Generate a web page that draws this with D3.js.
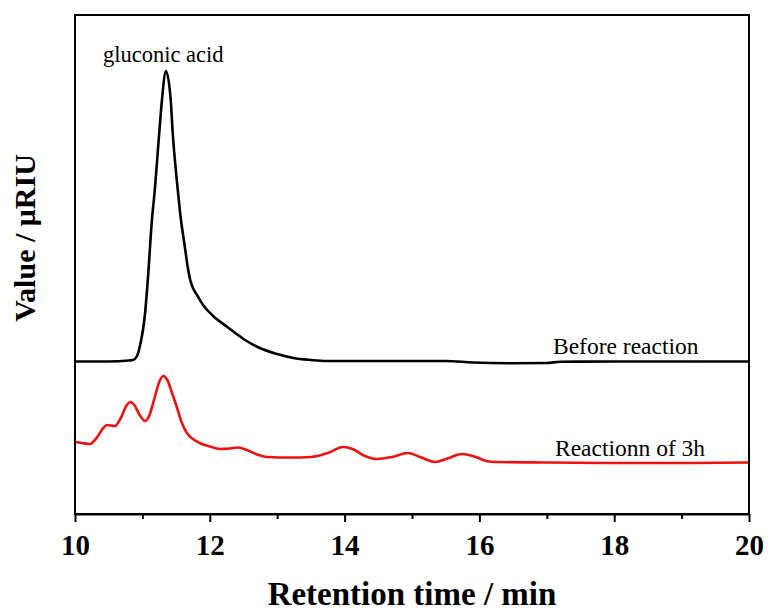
<!DOCTYPE html>
<html>
<head>
<meta charset="utf-8">
<script src="https://cdn.jsdelivr.net/npm/d3@7"></script>
<style>
  html, body { margin: 0; padding: 0; background: #fff; }
  svg { display: block; }
  text { font-family: "Liberation Serif", "Times New Roman", serif; }
</style>
</head>
<body>
<svg id="chart" width="768" height="614"></svg>
<script>
// ---- data (retention time in min, signal in arbitrary μRIU units, offset traces) ----
const beforeTime = [10.0, 10.5, 10.8, 10.86, 10.92, 10.96, 11.04, 11.08, 11.15, 11.17, 11.25, 11.29, 11.35,
  11.42, 11.45, 11.51, 11.54, 11.56, 11.63, 11.67, 11.71, 11.75, 11.81, 11.90, 12.05, 12.26, 12.5, 12.74, 13.0, 13.24,
  13.5, 13.73, 14.5, 15.5, 15.9, 16.5, 17.0, 17.2, 18.0, 20.0];
const beforeValue = [152.5, 152.5, 153.5, 154, 158, 167, 201, 234, 301, 314, 381, 414, 443,
  414, 381, 334, 314, 301, 267, 248, 234, 226, 219, 209, 198, 187, 175, 166, 160, 156,
  154, 153, 153, 153, 151.5, 150.7, 151, 152.3, 152.5, 152.5];

const afterTime = [10.0, 10.1, 10.22, 10.32, 10.42, 10.47, 10.59, 10.68, 10.76, 10.82, 10.88, 10.96, 11.04,
  11.1, 11.18, 11.25, 11.31, 11.37, 11.44, 11.51, 11.58, 11.66, 11.75, 11.85, 12.0, 12.15, 12.3, 12.42,
  12.55, 12.7, 12.85, 13.2, 13.5, 13.75, 13.98, 14.12, 14.3, 14.48, 14.7, 14.94, 15.12, 15.34, 15.55,
  15.74, 15.95, 16.1, 16.26, 17.0, 18.0, 19.0, 20.0];
const afterValue = [72, 71, 70, 76, 86, 89, 88, 96, 108, 112, 109, 99, 93,
  98, 116, 132, 138, 134, 121, 107, 92, 81, 75, 71, 67.5, 65, 65.5, 66.5,
  64, 59.5, 57, 56.5, 57, 61, 67, 65, 58, 55, 57, 61, 57, 52, 56,
  60, 57, 53, 52, 51.5, 51, 51, 51.5];

const majorTicks = [10, 12, 14, 16, 18, 20];
const minorTicks = [11, 13, 15, 17, 19];
const xTitle = "Retention time / min";
const yTitle = "Value / μRIU";
const peakLabel = "gluconic acid";
const seriesLabels = ["Before reaction", "Reactionn of 3h"];

// ---- layout ----
const svg = d3.select("#chart");
const mLeft = 75, mRight = 749, mTop = 15, mBottom = 514;

const x = d3.scaleLinear().domain([10, 20]).range([mLeft, mRight]);
const y = d3.scaleLinear().domain([0, 499]).range([mBottom, mTop]);

const line = d3.line()
  .x(d => x(d[0]))
  .y(d => y(d[1]))
  .curve(d3.curveMonotoneX);

const beforeData = beforeTime.map((t, i) => [t, beforeValue[i]]);
const afterData = afterTime.map((t, i) => [t, afterValue[i]]);

// curves
svg.append("path").datum(afterData)
  .attr("d", line).attr("fill", "none")
  .attr("stroke", "#ee1111").attr("stroke-width", 2.6).attr("stroke-linejoin", "round");
svg.append("path").datum(beforeData)
  .attr("d", line).attr("fill", "none")
  .attr("stroke", "#000").attr("stroke-width", 2.6).attr("stroke-linejoin", "round");

// frame
svg.append("rect")
  .attr("x", mLeft).attr("y", mTop)
  .attr("width", mRight - mLeft).attr("height", mBottom - mTop)
  .attr("fill", "none").attr("stroke", "#000").attr("stroke-width", 2);

// bottom axis: major
const gMaj = svg.append("g").attr("transform", `translate(0,${mBottom})`)
  .call(d3.axisBottom(x).tickValues(majorTicks).tickSize(8).tickSizeOuter(0).tickFormat(d3.format("d")));
gMaj.select(".domain").attr("stroke-width", 2);
gMaj.selectAll(".tick line").attr("stroke-width", 2);
gMaj.selectAll(".tick text")
  .attr("y", 41).attr("dy", 0)
  .attr("font-size", 29).attr("font-weight", "bold")
  .attr("font-family", "'Liberation Serif', 'Times New Roman', serif")
  .attr("fill", "#000");

// minor ticks
const gMin = svg.append("g").attr("transform", `translate(0,${mBottom})`)
  .call(d3.axisBottom(x).tickValues(minorTicks).tickSize(5).tickSizeOuter(0).tickFormat(""));
gMin.select(".domain").remove();
gMin.selectAll(".tick line").attr("stroke-width", 2);

// axis titles
svg.append("text")
  .attr("x", (mLeft + mRight) / 2).attr("y", 605)
  .attr("text-anchor", "middle")
  .attr("font-size", 33).attr("font-weight", "bold")
  .text(xTitle);

svg.append("text")
  .attr("transform", "translate(35,238) rotate(-90)")
  .attr("text-anchor", "middle")
  .attr("font-size", 30).attr("font-weight", "bold")
  .text(yTitle);

// annotations
svg.append("text")
  .attr("x", 103).attr("y", 62)
  .attr("font-size", 22.5)
  .text(peakLabel);

svg.append("text")
  .attr("x", 553).attr("y", 354)
  .attr("font-size", 23.5)
  .text(seriesLabels[0]);

svg.append("text")
  .attr("x", 555).attr("y", 456)
  .attr("font-size", 23.5)
  .text(seriesLabels[1]);
</script>
</body>
</html>
